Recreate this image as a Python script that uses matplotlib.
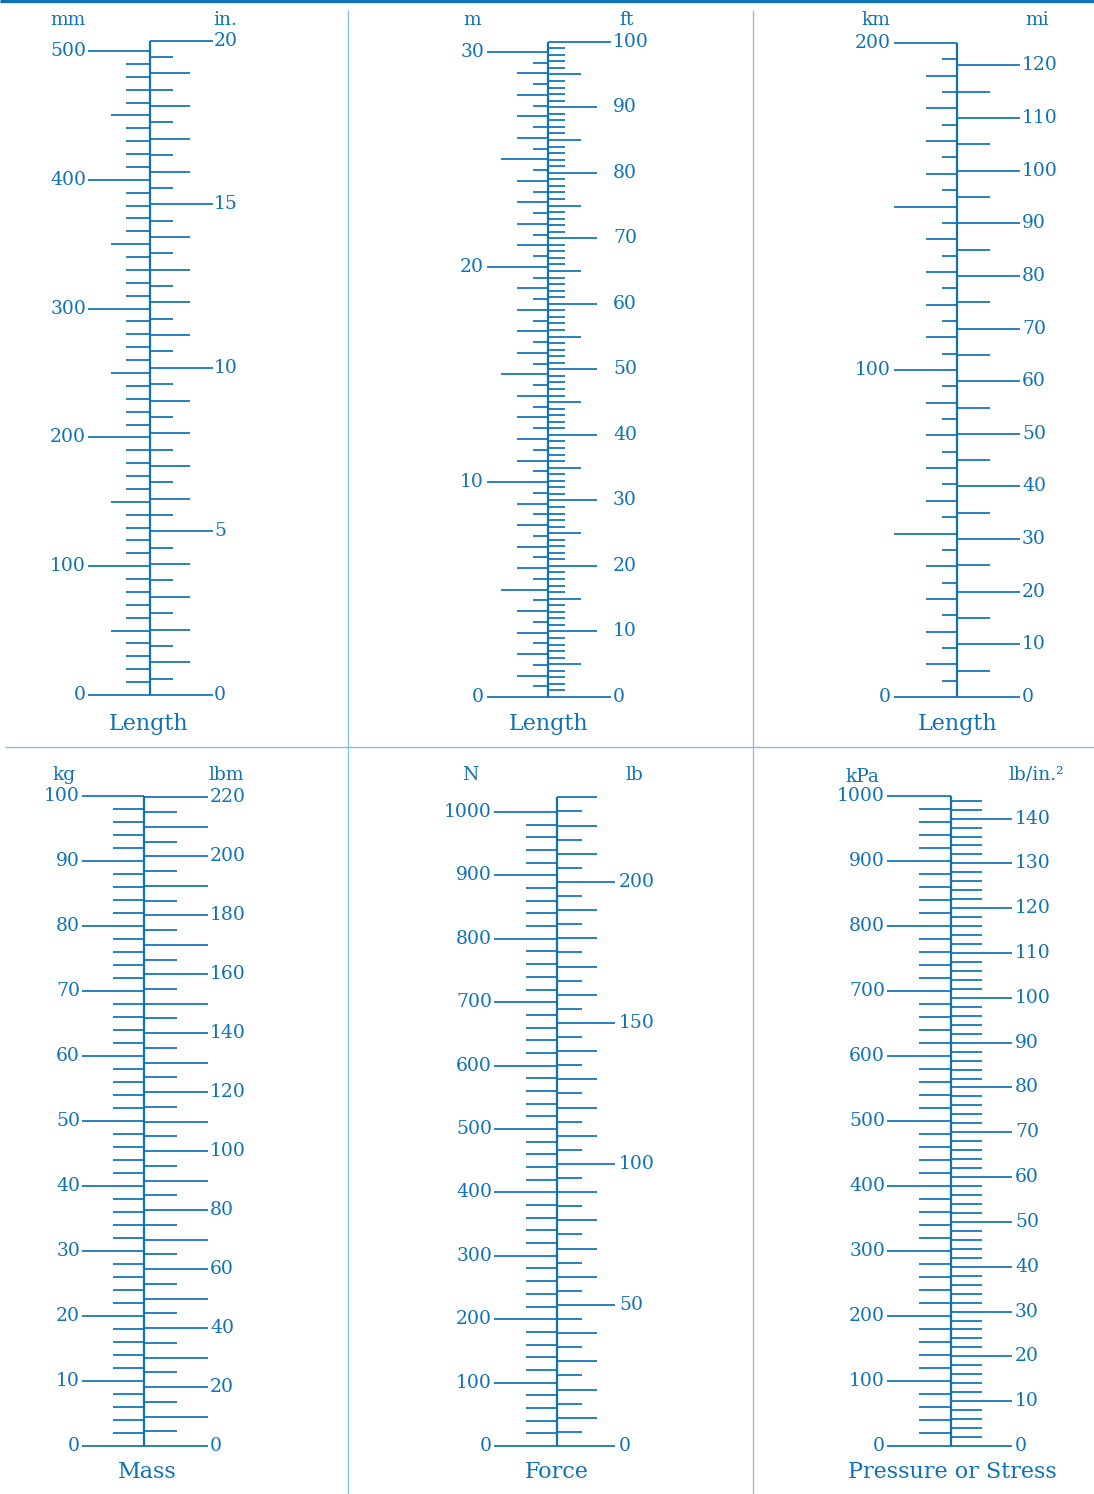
import numpy as np
import matplotlib
matplotlib.use("Agg")
import matplotlib.pyplot as plt

BLUE = "#0f71b8"
LIGHT = "#86bde6"
FONT = "DejaVu Serif"
W, H = 1094, 1494

# ---------------- data (scale definitions) ----------------
# Length: mm / in.
mm_labels = [0, 100, 200, 300, 400, 500]
mm_steps = [10, 50, 100]
in_labels = [0, 5, 10, 15, 20]
in_steps = [0.5, 1, 5]
MM_PER_IN = 25.4

# Length: m / ft
m_labels = [0, 10, 20, 30]
m_steps = [0.5, 1, 5, 10]
ft_labels = [0, 10, 20, 30, 40, 50, 60, 70, 80, 90, 100]
ft_steps = [1, 5, 10]
M_PER_FT = 0.3048

# Length: km / mi
km_labels = [0, 100, 200]
km_steps = [5, 10, 50, 100]
mi_labels = [0, 10, 20, 30, 40, 50, 60, 70, 80, 90, 100, 110, 120]
mi_steps = [5, 10]
KM_PER_MI = 1.609344

# Mass: kg / lbm
kg_labels = [0, 10, 20, 30, 40, 50, 60, 70, 80, 90, 100]
kg_steps = [2, 10]
lbm_labels = [0, 20, 40, 60, 80, 100, 120, 140, 160, 180, 200, 220]
lbm_steps = [5, 10, 20]
KG_PER_LBM = 0.45359237

# Force: N / lb
N_labels = [0, 100, 200, 300, 400, 500, 600, 700, 800, 900, 1000]
N_steps = [20, 100]
lb_labels = [0, 50, 100, 150, 200]
lb_steps = [5, 10, 50]
N_PER_LB = 4.448222

# Pressure: kPa / psi
kPa_labels = [0, 100, 200, 300, 400, 500, 600, 700, 800, 900, 1000]
kPa_steps = [20, 100]
psi_labels = [0, 10, 20, 30, 40, 50, 60, 70, 80, 90, 100, 110, 120, 130, 140]
psi_steps = [2, 10]
KPA_PER_PSI = 6.894757

# ---------------- layout / style per panel ----------------
panels = [
    dict(box=(0, 0, 348, 747), cx=150, p0=695, pmax=51, vmax=500,
         lunit="mm", lunit_xy=(68, 20), runit="in.", runit_xy=(225, 20),
         title="Length", title_xy=(149, 724),
         llabels=mm_labels, lsteps=mm_steps, lx=[126, 111, 88], llabx=86,
         rlabels=in_labels, rsteps=in_steps, rx=[173, 190, 213], rlabx=214,
         factor=MM_PER_IN, rmax=20, end_x=213),
    dict(box=(348, 0, 753, 747), cx=548, p0=697, pmax=52, vmax=30,
         lunit="m", lunit_xy=(472, 20), runit="ft", runit_xy=(627, 20),
         title="Length", title_xy=(549, 724),
         llabels=m_labels, lsteps=m_steps, lx=[533, 517, 501, 487], llabx=484,
         rlabels=ft_labels, rsteps=ft_steps, rx=[565, 581, 597], rlabx=613,
         factor=M_PER_FT, rmax=100, end_x=611),
    dict(box=(753, 0, 1094, 747), cx=957, p0=697, pmax=43, vmax=200,
         lunit="km", lunit_xy=(876, 20), runit="mi", runit_xy=(1037, 20),
         title="Length", title_xy=(958, 724),
         llabels=km_labels, lsteps=km_steps, lx=[942, 926, 894, 894], llabx=891,
         rlabels=mi_labels, rsteps=mi_steps, rx=[990, 1020], rlabx=1022,
         factor=KM_PER_MI, rmax=120, end_x=1020),
    dict(box=(0, 747, 348, 1494), cx=144, p0=1446, pmax=796, vmax=100,
         lunit="kg", lunit_xy=(64, 775), runit="lbm", runit_xy=(226, 775),
         title="Mass", title_xy=(147, 1472),
         llabels=kg_labels, lsteps=kg_steps, lx=[113, 82], llabx=80,
         rlabels=lbm_labels, rsteps=lbm_steps, rx=[177, 208, 208], rlabx=210,
         factor=KG_PER_LBM, rmax=220, end_x=208),
    dict(box=(348, 747, 753, 1494), cx=557, p0=1446, pmax=812, vmax=1000,
         lunit="N", lunit_xy=(470, 775), runit="lb", runit_xy=(634, 775),
         title="Force", title_xy=(557, 1472),
         llabels=N_labels, lsteps=N_steps, lx=[526, 494], llabx=492,
         rlabels=lb_labels, rsteps=lb_steps, rx=[582, 597, 615], rlabx=619,
         factor=N_PER_LB, rmax=230, end_x=615),
    dict(box=(753, 747, 1094, 1494), cx=951, p0=1446, pmax=796, vmax=1000,
         lunit="kPa", lunit_xy=(862, 777), runit="lb/in.\u00b2", runit_xy=(1036, 775),
         title="Pressure or Stress", title_xy=(952, 1472),
         llabels=kPa_labels, lsteps=kPa_steps, lx=[919, 887], llabx=885,
         rlabels=psi_labels, rsteps=psi_steps, rx=[982, 1012], rlabx=1015,
         factor=KPA_PER_PSI, rmax=144, end_x=1012),
]

NUM_FS = 13.5
UNIT_FS = 13.5
TITLE_FS = 16


def tick_levels(vmax, steps):
    """value -> index of coarsest step that divides it."""
    out = {}
    for i, st in enumerate(steps):
        n = int(np.floor(vmax / st + 1e-9))
        for k in range(n + 1):
            out[round(k * st, 6)] = i
    return out


fig = plt.figure(figsize=(W / 100, H / 100), dpi=100)
fig.patch.set_facecolor("white")

# background axes for separators
bg = fig.add_axes([0, 0, 1, 1])
bg.set_xlim(0, W)
bg.set_ylim(H, 0)
bg.axis("off")
bg.hlines(1.2, 0, W, color=BLUE, lw=2.4)
bg.hlines(747, 5, W, color=LIGHT, lw=1.0)
bg.vlines([348, 753], 10, H, color=LIGHT, lw=0.9)

TICK_LW = 1.25
for P in panels:
    x0, y0, x1, y1 = P["box"]
    s = (P["p0"] - P["pmax"]) / P["vmax"]          # px per primary unit
    to_val = lambda py, P=P, s=s: (P["p0"] - py) / s
    ax = fig.add_axes([x0 / W, 1 - y1 / H, (x1 - x0) / W, (y1 - y0) / H])
    ax.set_xlim(x0, x1)
    ax.set_ylim(to_val(y1), to_val(y0))
    ax.axis("off")
    ax.patch.set_alpha(0)
    cx = P["cx"]
    f = P["factor"]

    # central line
    top_val = max(P["vmax"], P["rmax"] * f)
    ax.vlines(cx, 0, top_val, color=BLUE, lw=1.6)

    # left ticks (primary units)
    lv = tick_levels(P["vmax"], P["lsteps"])
    for v, i in lv.items():
        ax.hlines(v, P["lx"][i], cx, color=BLUE, lw=TICK_LW)
    for v in P["llabels"]:
        ax.text(P["llabx"], v, str(v), ha="right", va="center",
                fontsize=NUM_FS, family=FONT, color=BLUE)

    # right ticks (secondary units)
    rv = tick_levels(P["rmax"], P["rsteps"])
    for v, i in rv.items():
        xe = P["rx"][i]
        if v == 0 or v == P["rlabels"][-1]:
            xe = max(xe, P["end_x"])
        ax.hlines(v * f, cx, xe, color=BLUE, lw=TICK_LW)
    for v in P["rlabels"]:
        ax.text(P["rlabx"], v * f, str(v), ha="left", va="center",
                fontsize=NUM_FS, family=FONT, color=BLUE)

    # unit labels and title
    ax.text(P["lunit_xy"][0], to_val(P["lunit_xy"][1]), P["lunit"], ha="center",
            va="center", fontsize=UNIT_FS, family=FONT, color=BLUE)
    ax.text(P["runit_xy"][0], to_val(P["runit_xy"][1]), P["runit"], ha="center",
            va="center", fontsize=UNIT_FS, family=FONT, color=BLUE)
    ax.text(P["title_xy"][0], to_val(P["title_xy"][1]), P["title"], ha="center",
            va="center", fontsize=TITLE_FS, family=FONT, color=BLUE)

fig.savefig("out.png", dpi=100, facecolor="white")
